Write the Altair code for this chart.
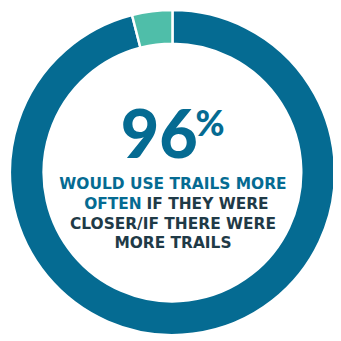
import altair as alt
import pandas as pd

categories = ["Would use trails more often", "Other"]
values = [96, 4]
colors = ["#056b92", "#4fbea9"]

headline = "96"
headline_sign = "%"
line1 = "WOULD USE TRAILS MORE"
line2a = "OFTEN"
line2b = "IF THEY WERE"
line3 = "CLOSER/IF THERE WERE"
line4 = "MORE TRAILS"

df = pd.DataFrame({"category": categories, "value": values, "order": [0, 1]})

CX, CY = 168.5, 164.5
BLUE = "#056b92"
DARK = "#1f3a47"
FONT = "DejaVu Sans"
FS = 15.8

donut = alt.Chart(df).mark_arc(
    outerRadius=166.5, innerRadius=132, stroke="white", strokeWidth=2.5
).encode(
    theta=alt.Theta("value:Q", stack=True),
    order=alt.Order("order:Q"),
    color=alt.Color("category:N", scale=alt.Scale(domain=categories, range=colors), legend=None),
    x=alt.value(CX),
    y=alt.value(CY),
)

def txt(t, x, y, size, color, align="center", weight="bold", font=FONT):
    return alt.Chart(pd.DataFrame({"t": [t]})).mark_text(
        font=font, fontSize=size, fontWeight=weight, color=color,
        align=align, baseline="alphabetic"
    ).encode(text="t:N", x=alt.value(x), y=alt.value(y))

layers = [
    donut,
    txt(headline, 155, 150, 68, BLUE, weight=900, font="Lato"),
    txt(headline_sign, 192, 127, 36, BLUE, align="left", weight=900, font="Lato"),
    txt(line1, 169, 181, FS, BLUE),
    txt(line2a, 137, 202, FS, BLUE, align="right"),
    txt(line2b, 142, 202, FS, DARK, align="left"),
    txt(line3, 169, 222, FS, DARK),
    txt(line4, 169, 242, FS, DARK),
]

chart = alt.layer(*layers).properties(
    width=333, height=333, padding=0, autosize=alt.AutoSizeParams(type="none")
).configure_view(stroke=None)

chart.save("out.html", embed_options={"renderer": "svg", "actions": False})
